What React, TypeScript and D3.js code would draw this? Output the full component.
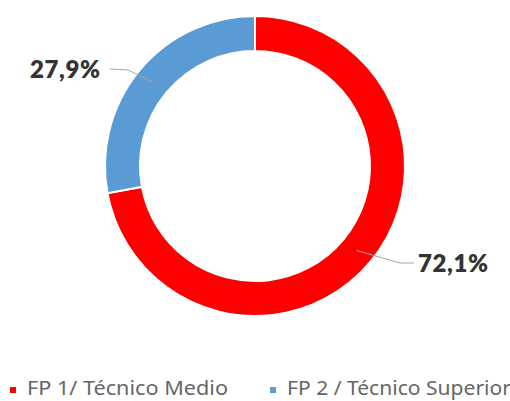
import React from "react";
import * as d3 from "d3";

const categories = ["FP 1/ Técnico Medio", "FP 2 / Técnico Superior"];
const values = [72.1, 27.9];
const labels = ["72,1%", "27,9%"];
const colors = ["#ff0000", "#5b9bd5"];

const W = 510;
const H = 401;
const cx = 255;
const cy = 166;
const rOuter = 150;
const rInner = 115;

export default function App() {
  const pie = d3.pie<number>().sort(null).value((d) => d)(values);
  const arc = d3.arc<d3.PieArcDatum<number>>().innerRadius(rInner).outerRadius(rOuter);

  const anchorAngles = [2.265, 5.4];
  const anchors = anchorAngles.map((a) => ({
    x: cx + Math.sin(a) * 132,
    y: cy - Math.cos(a) * 132,
  }));

  return (
    <svg width={W} height={H} style={{ position: "absolute", left: 0, top: 0 }}>
      <rect width={W} height={H} fill="#ffffff" />
      <g transform={`translate(${cx},${cy})`}>
        {pie.map((p, i) => (
          <path key={i} d={arc(p) || ""} fill={colors[i]} stroke="#ffffff" strokeWidth={2} />
        ))}
      </g>
      <polyline
        points={`${anchors[0].x},${anchors[0].y} 400,263 414,263`}
        fill="none"
        stroke="#a6a6a6"
        strokeWidth={1}
      />
      <text x={418} y={272} fontFamily="Lato, 'Open Sans', sans-serif" fontWeight={800} fontSize={24} letterSpacing={0.6} fill="#333333">
        {labels[0]}
      </text>
      <polyline
        points={`${anchors[1].x},${anchors[1].y} 128,70 110,69`}
        fill="none"
        stroke="#a6a6a6"
        strokeWidth={1}
      />
      <text x={30} y={78} fontFamily="Lato, 'Open Sans', sans-serif" fontWeight={800} fontSize={24} letterSpacing={0.6} fill="#333333">
        {labels[1]}
      </text>
      {categories.map((c, i) => {
        const x0 = i === 0 ? 10 : 270;
        const tw = i === 0 ? 201 : 224;
        return (
          <g key={c}>
            <rect x={x0} y={387} width={6} height={6} fill={colors[i]} />
            <text
              x={x0 + 17}
              y={395}
              fontFamily="'Noto Sans', sans-serif"
              fontSize={20}
              textLength={tw}
              lengthAdjust="spacingAndGlyphs"
              fill="#666666"
            >
              {c}
            </text>
          </g>
        );
      })}
    </svg>
  );
}
